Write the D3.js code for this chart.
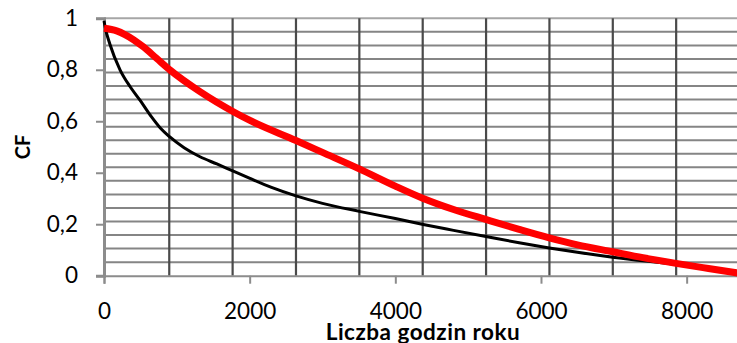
<!DOCTYPE html>
<html><head><meta charset="utf-8">
<script src="https://cdn.jsdelivr.net/npm/d3@7"></script>
<style>html,body{margin:0;padding:0;background:#fff;overflow:hidden}</style>
</head><body>
<script>
// ---- data ----
const hoursBlack = [0, 20, 80, 220, 357, 494, 650, 770, 900, 1100, 1318, 1550, 1760, 2004, 2300, 2636, 3000, 3505, 4000, 4384, 4800, 5262, 5700, 6113, 6500, 6984, 7500, 8000, 8400, 8760];
const cfBlack    = [0.99, 0.96, 0.90, 0.80, 0.735, 0.682, 0.618, 0.575, 0.54, 0.497, 0.462, 0.434, 0.408, 0.378, 0.343, 0.31, 0.281, 0.25, 0.222, 0.199, 0.176, 0.151, 0.128, 0.108, 0.091, 0.072, 0.055, 0.04, 0.027, 0.012];
const hoursRed   = [0, 174, 287, 540, 723, 906, 1318, 1776, 2004, 2636, 3000, 3505, 4000, 4384, 4800, 5262, 5700, 6113, 6500, 6984, 7400, 7853, 8300, 8760];
const cfRed      = [0.961, 0.951, 0.937, 0.889, 0.844, 0.799, 0.715, 0.637, 0.603, 0.525, 0.479, 0.415, 0.348, 0.3, 0.257, 0.217, 0.18, 0.147, 0.12, 0.093, 0.07, 0.048, 0.028, 0.008];
const xTicks = [0, 2000, 4000, 6000, 8000];
const yTicks = [0, 0.2, 0.4, 0.6, 0.8, 1];
const yTickLabels = ["0", "0,2", "0,4", "0,6", "0,8", "1"];
const xGrid = [896, 1766, 2636, 3506, 4376, 5246, 6116, 6986, 7856];
const yGrid = d3.range(1, 19).map(i => i / 19);
const xTitle = "Liczba godzin roku";
const yTitle = "CF";

// ---- layout ----
const W = 737, H = 343;
const x = d3.scaleLinear().domain([0, 8760]).range([104, 742]);
const y = d3.scaleLinear().domain([0, 1]).range([275.7, 18.3]);

const svg = d3.select("body").append("svg").attr("width", W).attr("height", H)
  .style("font-family", "Lato, 'Open Sans', sans-serif");

// horizontal gridlines
svg.append("g").selectAll("line").data(yGrid).join("line")
  .attr("x1", x(0)).attr("x2", x(8760))
  .attr("y1", d => y(d)).attr("y2", d => y(d))
  .attr("stroke", "#858585").attr("stroke-width", 2);

// top border
svg.append("line").attr("x1", x(0)).attr("x2", x(8760)).attr("y1", y(1)).attr("y2", y(1))
  .attr("stroke", "#a6a6a6").attr("stroke-width", 2);

// vertical gridlines
svg.append("g").selectAll("line").data(xGrid).join("line")
  .attr("x1", d => x(d)).attr("x2", d => x(d))
  .attr("y1", y(1)).attr("y2", y(0))
  .attr("stroke", "#4a4a4a").attr("stroke-width", 2.2);

// x axis
const xAxis = svg.append("g").attr("transform", `translate(0,${y(0)})`)
  .call(d3.axisBottom(x).tickValues(xTicks).tickSize(8).tickPadding(19).tickFormat(d3.format("d")));
xAxis.select(".domain").attr("stroke", "#8c8c8c").attr("stroke-width", 2);
xAxis.selectAll(".tick line").attr("stroke", "#8c8c8c").attr("stroke-width", 2);
xAxis.selectAll(".tick text").attr("fill", "#000").style("font-size", "22.5px").style("font-family", "Lato, sans-serif");

// y axis
const yAxis = svg.append("g").attr("transform", `translate(${x(0)},0)`)
  .call(d3.axisLeft(y).tickValues(yTicks).tickSize(8).tickPadding(18).tickFormat((d, i) => yTickLabels[i]));
yAxis.select(".domain").attr("stroke", "#8c8c8c").attr("stroke-width", 3);
yAxis.selectAll(".tick line").attr("stroke", "#8c8c8c").attr("stroke-width", 2);
yAxis.selectAll(".tick text").attr("fill", "#000").style("font-size", "22.5px").style("font-family", "Lato, sans-serif");

// series
const line = d3.line().x(d => x(d[0])).y(d => y(d[1])).curve(d3.curveMonotoneX);
svg.append("path").datum(hoursBlack.map((h, i) => [h, cfBlack[i]]))
  .attr("d", line).attr("fill", "none").attr("stroke", "#000").attr("stroke-width", 3);
svg.append("path").datum(hoursRed.map((h, i) => [h, cfRed[i]]))
  .attr("d", line).attr("fill", "none").attr("stroke", "#ff0000").attr("stroke-width", 7);

// titles
svg.append("text").attr("x", (x(0) + x(8760)) / 2).attr("y", 340)
  .attr("text-anchor", "middle").style("font-weight", "bold").style("font-size", "22.5px")
  .style("letter-spacing", "0.5px")
  .text(xTitle);
svg.append("text").attr("transform", `translate(30,${(y(0) + y(1)) / 2}) rotate(-90)`)
  .attr("text-anchor", "middle").style("font-weight", "bold").style("font-size", "20px")
  .text(yTitle);
</script>
</body></html>
